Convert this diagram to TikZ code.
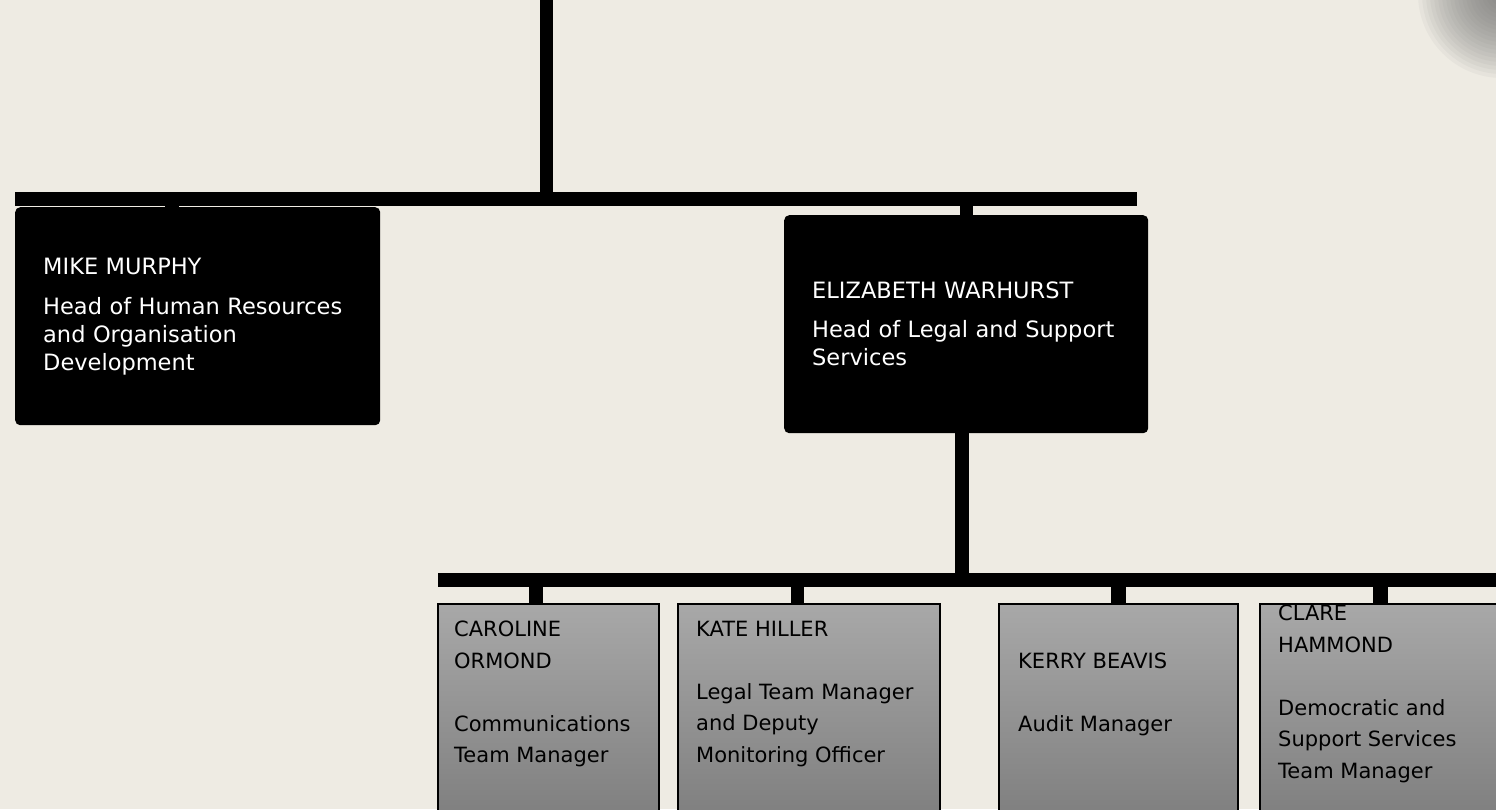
\documentclass[tikz,border=0pt]{standalone}
\usepackage{fontspec}
\setmainfont{DejaVu Sans}
\usepackage{xcolor}
\usepackage{tikz}
\definecolor{paper}{HTML}{EEEBE3}
\definecolor{boxtop}{HTML}{A8A8A8}
\definecolor{boxbottom}{HTML}{7A7A7A}
\definecolor{corner}{HTML}{6E6E6E}

\begin{document}
\begin{tikzpicture}[x=1pt, y=-1pt,
  headbox/.style={fill=black, rounded corners=5pt, text=white, align=left, anchor=north west, inner xsep=28pt, inner ysep=0pt, minimum height=218pt, font=\fontsize{22.5}{28}\selectfont},
  teambox/.style={draw=black, line width=2pt, top color=boxtop, bottom color=boxbottom, minimum height=240pt, anchor=north west, inner sep=0pt},
  teamtext/.style={anchor=west, align=left, inner sep=0pt, font=\fontsize{21}{31.5}\selectfont},
  bar/.style={line width=14pt}]
\useasboundingbox (0,0) rectangle (1496,809);
\clip (0,0) rectangle (1496,809);
\fill[paper] (0,0) rectangle (1496,809);
\foreach \r in {84,80,...,4}
  \fill[corner, opacity=0.06] (1502,-6) circle (\r pt);

\node[headbox, text width=309pt] (mike) at (15,207) {MIKE MURPHY\\[12pt]Head of Human Resources\\and Organisation\\Development};
\node[headbox, text width=308pt] (eliz) at (784,215) {ELIZABETH WARHURST\\[11pt]Head of Legal and Support\\Services};

\node[teambox, minimum width=221pt] (caroline) at (437,603) {};
\node[teambox, minimum width=262pt] (kate) at (677,603) {};
\node[teambox, minimum width=239pt] (kerry) at (998,603) {};
\node[teambox, minimum width=240pt] (clare) at (1259,603) {};

\node[teamtext] (carolinetext) at ([xshift=17pt, yshift=-91pt]caroline.north west) {CAROLINE\\ORMOND\\[31.5pt]Communications\\Team Manager};
\node[teamtext] (katetext) at ([xshift=19pt, yshift=-91pt]kate.north west) {KATE HILLER\\[31.5pt]Legal Team Manager\\and Deputy\\Monitoring Officer};
\node[teamtext] (kerrytext) at ([xshift=20pt, yshift=-91pt]kerry.north west) {KERRY BEAVIS\\[31.5pt]Audit Manager};
\node[teamtext] (claretext) at ([xshift=19pt, yshift=-91pt]clare.north west) {CLARE\\HAMMOND\\[31.5pt]Democratic and\\Support Services\\Team Manager};

\coordinate (root) at (546.5,0);
\coordinate (topleft) at (15,199);
\coordinate (topright) at (1137,199);
\coordinate (lowleft) at (438,580);
\coordinate (lowright) at (1500,580);

\draw[line width=13pt] (root) -- (root |- topleft);
\draw[bar] (topleft) -- (topright);
\draw[bar] ([xshift=-26pt]mike.north) -- ([xshift=-26pt]mike.north |- topleft);
\draw[line width=13pt] (eliz.north) -- (eliz.north |- topleft);
\draw[bar] ([xshift=-4pt]eliz.south) -- ([xshift=-4pt]eliz.south |- lowleft);
\draw[bar] (lowleft) -- (lowright);
\draw[bar] ([xshift=-12.5pt]caroline.north) -- ([xshift=-12.5pt]caroline.north |- lowleft);
\draw[line width=13pt] ([xshift=-11.5pt]kate.north) -- ([xshift=-11.5pt]kate.north |- lowleft);
\draw[line width=15pt] (kerry.north) -- (kerry.north |- lowleft);
\draw[line width=15pt] (clare.north) -- (clare.north |- lowleft);
\end{tikzpicture}
\end{document}
